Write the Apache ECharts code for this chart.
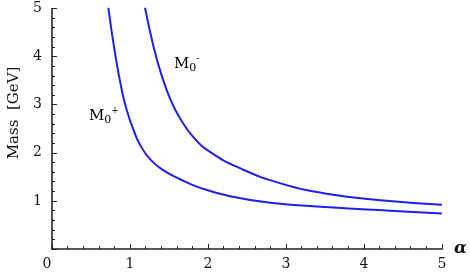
<!DOCTYPE html>
<html>
<head>
<meta charset="utf-8">
<script src="https://cdn.jsdelivr.net/npm/echarts@6/dist/echarts.min.js"></script>
<style>html,body{margin:0;padding:0;background:#fff}#c{width:470px;height:277px}</style>
</head>
<body>
<div id="c"></div>
<script>
// Data
const alphaPlus = [0.722, 0.81, 0.894, 0.958, 1.042, 1.128, 1.256, 1.427, 1.641, 1.90, 2.3, 2.795, 3.56, 4.33, 5.0];
const massPlus  = [5.02, 4.05, 3.31, 2.89, 2.49, 2.17, 1.87, 1.64, 1.45, 1.27, 1.09, 0.963, 0.867, 0.797, 0.74];
const alphaMinus = [1.192, 1.30, 1.40, 1.526, 1.641, 1.81, 2.026, 2.41, 2.92, 3.56, 4.33, 5.0];
const massMinus  = [5.02, 4.22, 3.64, 3.08, 2.72, 2.33, 2.02, 1.68, 1.37, 1.14, 1.0, 0.92];
const xTicks = [0, 1, 2, 3, 4, 5];
const yTicks = [1, 2, 3, 4, 5];

const font = 'DejaVu Serif';
const axisColor = '#222';
const lineColor = '#1f1ff0';

const chart = echarts.init(document.getElementById('c'), null, {renderer: 'canvas'});
const axisCommon = {
  type: 'value', min: 0, max: 5, interval: 1,
  axisLine: {show: true, onZero: false, lineStyle: {color: axisColor, width: 1.6}},
  axisTick: {show: true, inside: true, length: 5, lineStyle: {color: axisColor, width: 1}},
  minorTick: {show: true, splitNumber: 5, length: 3, lineStyle: {color: axisColor, width: 1}},
  splitLine: {show: false},
  axisLabel: {color: '#111', fontFamily: font, fontSize: 14}
};
chart.setOption({
  animation: false,
  grid: {left: 52, right: 28, top: 8.5, bottom: 28, containLabel: false},
  xAxis: Object.assign({}, axisCommon, {
    name: 'α', nameLocation: 'end', nameGap: 12,
    nameTextStyle: {fontFamily: font, fontSize: 17, fontStyle: 'italic', fontWeight: 'bold', color: '#111', verticalAlign: 'middle'},
    axisLabel: Object.assign({}, axisCommon.axisLabel, {margin: 8,
      formatter: v => v === 0 ? '{z|0}' : (xTicks.includes(v) ? String(v) : ''),
      rich: {z: {fontFamily: font, fontSize: 14, color: '#111', padding: [0, 10, 0, 0]}}})
  }),
  yAxis: Object.assign({}, axisCommon, {
    axisLabel: Object.assign({}, axisCommon.axisLabel, {margin: 10,
      formatter: v => yTicks.includes(v) ? String(v) : ''})
  }),
  series: [
    {type: 'line', name: 'M0+', data: alphaPlus.map((a, i) => [a, massPlus[i]]),
     showSymbol: false, smooth: 0.5, clip: true,
     lineStyle: {color: lineColor, width: 2}},
    {type: 'line', name: 'M0-', data: alphaMinus.map((a, i) => [a, massMinus[i]]),
     showSymbol: false, smooth: 0.5, clip: true,
     lineStyle: {color: lineColor, width: 2}}
  ],
  graphic: [
    {type: 'text', x: 14, y: 113, rotation: Math.PI / 2, style: {
      text: 'Mass  [GeV]', fontFamily: font, fontSize: 15, fill: '#111',
      align: 'center', verticalAlign: 'middle'}},
    {type: 'text', left: 89, top: 106, style: {
      text: '{m|M}{s|0}{p|+}',
      rich: {
        m: {fontFamily: font, fontSize: 15, color: '#111', lineHeight: 20},
        s: {fontFamily: font, fontSize: 11, color: '#111', verticalAlign: 'bottom', lineHeight: 11},
        p: {fontFamily: font, fontSize: 9, color: '#111', verticalAlign: 'top', lineHeight: 9}
      }}},
    {type: 'text', left: 174, top: 54, style: {
      text: '{m|M}{s|0}{p|-}',
      rich: {
        m: {fontFamily: font, fontSize: 15, color: '#111', lineHeight: 20},
        s: {fontFamily: font, fontSize: 11, color: '#111', verticalAlign: 'bottom', lineHeight: 11},
        p: {fontFamily: font, fontSize: 9, color: '#111', verticalAlign: 'top', lineHeight: 9}
      }}}
  ]
});
</script>
</body>
</html>
